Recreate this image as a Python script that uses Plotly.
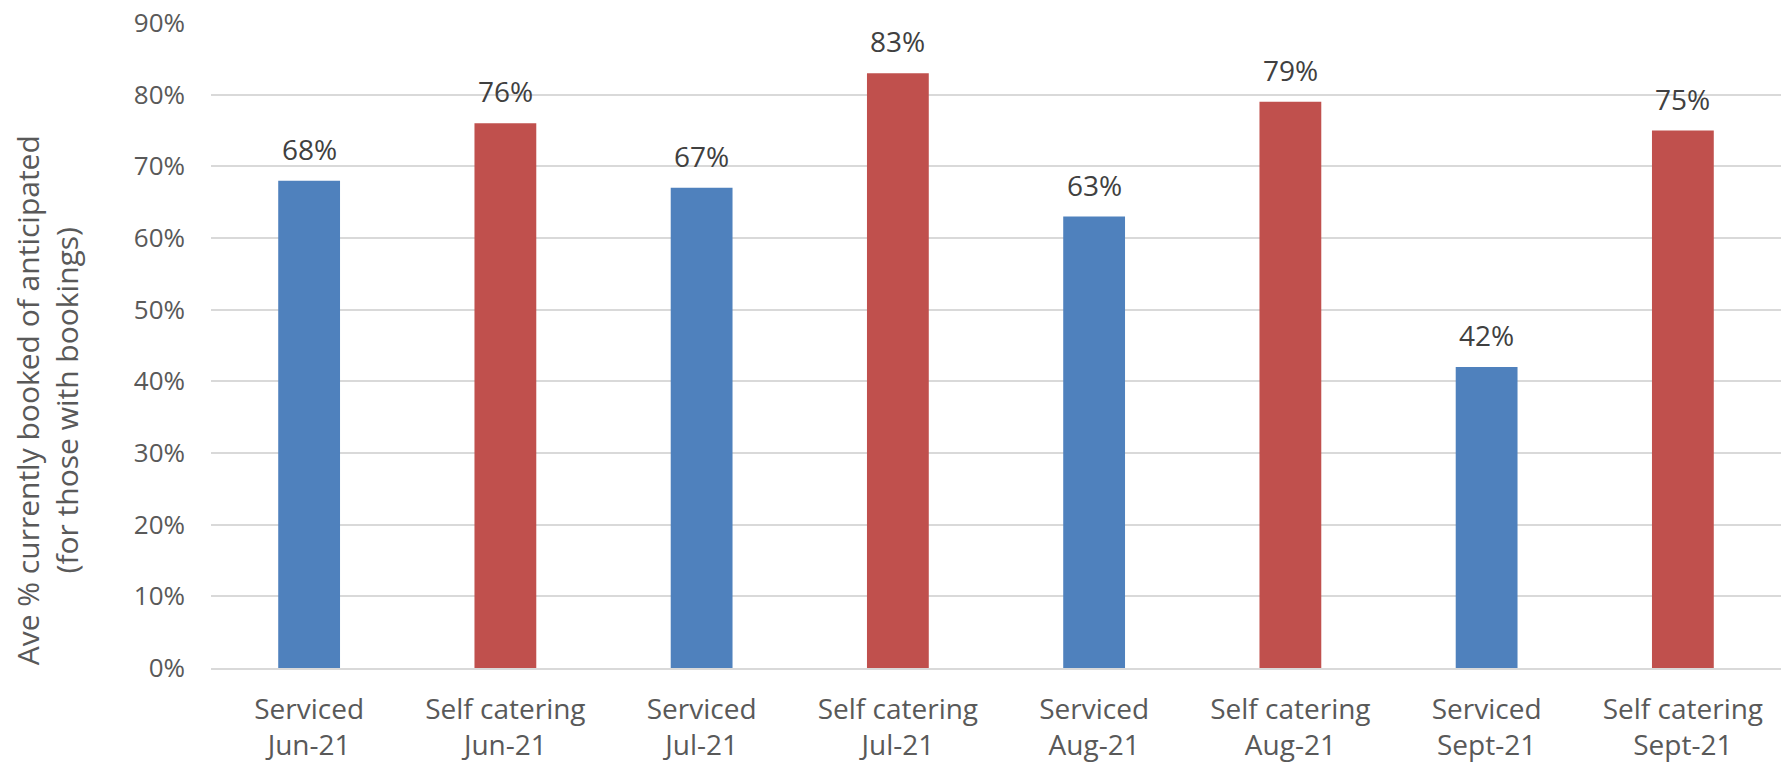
import plotly.graph_objects as go

types = ["Serviced", "Self catering", "Serviced", "Self catering",
         "Serviced", "Self catering", "Serviced", "Self catering"]
months = ["Jun-21", "Jun-21", "Jul-21", "Jul-21", "Aug-21", "Aug-21", "Sept-21", "Sept-21"]
values = [0.68, 0.76, 0.67, 0.83, 0.63, 0.79, 0.42, 0.75]
tick_vals = [0, 0.1, 0.2, 0.3, 0.4, 0.5, 0.6, 0.7, 0.8, 0.9]

categories = [f"{t}<br>{m}" for t, m in zip(types, months)]
colors = ["#4F81BD" if t == "Serviced" else "#C0504D" for t in types]

FONT = "Open Sans"

fig = go.Figure()
fig.add_trace(go.Bar(
    x=categories, y=values,
    marker=dict(color=colors, line=dict(width=0)),
    width=0.315,
    hoverinfo="x+y",
))

for c, v in zip(categories, values):
    fig.add_annotation(
        x=c, y=v, text=f"{round(v*100)}%", showarrow=False,
        yanchor="bottom", yshift=11,
        font=dict(family=FONT, size=28, color="#404040"),
    )

fig.add_annotation(
    xref="paper", yref="paper", x=0, y=0.415, xshift=-164,
    xanchor="center", yanchor="middle",
    text="Ave % currently booked of anticipated<br>(for those with bookings)",
    textangle=-90, showarrow=False,
    font=dict(family=FONT, size=30, color="#595959"),
)

fig.update_layout(
    width=1781, height=763,
    margin=dict(l=211, r=0, t=23, b=95),
    paper_bgcolor="white", plot_bgcolor="white",
    showlegend=False,
    bargap=0.685,
    font=dict(family=FONT, size=26, color="#595959"),
)
fig.update_xaxes(
    showgrid=False, showline=True, linecolor="#D9D9D9", linewidth=2,
    tickfont=dict(family=FONT, size=28, color="#595959"),
    ticklabelstandoff=15, automargin=False, fixedrange=True,
)
fig.update_yaxes(
    range=[0, 0.9], tickvals=tick_vals, tickformat=".0%",
    showgrid=True, gridcolor="#D9D9D9", gridwidth=2,
    zeroline=False, showline=False,
    tickfont=dict(family=FONT, size=26, color="#595959"),
    ticklabelstandoff=25, automargin=False, fixedrange=True,
)

fig.write_html(
    "out.html",
    config={"displayModeBar": False},
    post_script="document.body.style.margin='0';document.body.style.overflow='hidden';",
)
